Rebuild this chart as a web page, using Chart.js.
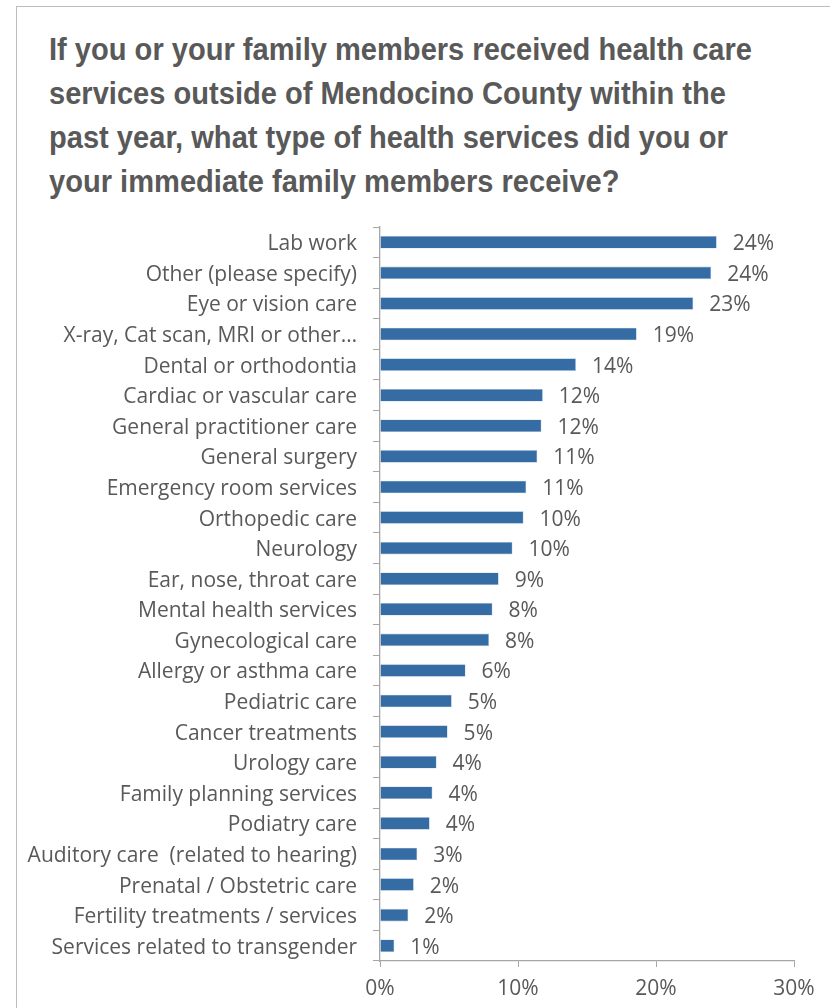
<!DOCTYPE html>
<html>
<head>
<meta charset="utf-8">
<script src="https://cdn.jsdelivr.net/npm/chart.js@4/dist/chart.umd.min.js"></script>
<style>
  html, body { margin: 0; padding: 0; background: #ffffff; width: 830px; height: 1008px; overflow: hidden; }
  #frame { position: absolute; left: 16px; top: 6px; width: 900px; height: 1100px; border-left: 1px solid #bcbcbc; border-top: 1px solid #bcbcbc; }
  #title { position: absolute; left: 49px; top: 27px; margin: 0; font-family: 'Liberation Sans', Arial, sans-serif; font-weight: bold; font-size: 32px; line-height: 44px; color: #595959; white-space: nowrap; transform-origin: 0 0; }
  #wrap { position: absolute; left: 0; top: 0; width: 830px; height: 1008px; }
</style>
</head>
<body>
<div id="frame"></div>
<div id="title"></div>
<div id="wrap"><canvas id="c" width="830" height="1008"></canvas></div>
<script>
const titleLines = [
  "If you or your family members received health care",
  "services outside of Mendocino County within the",
  "past year, what type of health services did you or",
  "your immediate family members receive?"
];
const categories = [
  "Lab work",
  "Other (please specify)",
  "Eye or vision care",
  "X-ray, Cat scan, MRI or other…",
  "Dental or orthodontia",
  "Cardiac or vascular care",
  "General practitioner care",
  "General surgery",
  "Emergency room services",
  "Orthopedic care",
  "Neurology",
  "Ear, nose, throat care",
  "Mental health services",
  "Gynecological care",
  "Allergy or asthma care",
  "Pediatric care",
  "Cancer treatments",
  "Urology care",
  "Family planning services",
  "Podiatry care",
  "Auditory care  (related to hearing)",
  "Prenatal / Obstetric care",
  "Fertility treatments / services",
  "Services related to transgender"
];
const percentValues = [24.4, 24.0, 22.7, 18.6, 14.2, 11.8, 11.7, 11.4, 10.6, 10.4, 9.6, 8.6, 8.15, 7.9, 6.2, 5.2, 4.9, 4.1, 3.8, 3.6, 2.7, 2.45, 2.05, 1.04];
const xTickValues = [0, 10, 20, 30];

// Title: condensed look by horizontal scaling of a bold sans
const titleEl = document.getElementById('title');
titleEl.innerHTML = titleLines.map(t => t.replace(/&/g, '&amp;')).join('<br>');
(function () {
  const m = document.createElement('canvas').getContext('2d');
  m.font = "bold 32px 'Liberation Sans', Arial, sans-serif";
  const w = m.measureText(titleLines[0]).width;
  titleEl.style.transform = 'scaleX(' + (703 / w) + ')';
})();

const textColor = '#595959';
const axisColor = '#a6a6a6';
const labelFont = { family: "'Open Sans', sans-serif", size: 21 };

const valueLabels = {
  id: 'valueLabels',
  afterDatasetsDraw(chart) {
    const ctx = chart.ctx;
    const meta = chart.getDatasetMeta(0);
    ctx.save();
    ctx.font = "21px 'Open Sans', sans-serif";
    ctx.fillStyle = textColor;
    ctx.textAlign = 'left';
    ctx.textBaseline = 'middle';
    meta.data.forEach((bar, i) => {
      ctx.fillText(Math.round(percentValues[i]) + '%', bar.x + 16, bar.y + 2);
    });
    ctx.restore();
  }
};

new Chart(document.getElementById('c'), {
  type: 'bar',
  data: {
    labels: categories,
    datasets: [{
      data: percentValues,
      backgroundColor: '#356ca4',
      borderColor: '#a8c1de',
      borderWidth: 0.6,
      barPercentage: 0.41,
      categoryPercentage: 1.0
    }]
  },
  options: {
    indexAxis: 'y',
    responsive: false,
    animation: false,
    devicePixelRatio: 1,
    layout: { padding: { top: 227, right: 36, bottom: 0, left: 0 } },
    plugins: { legend: { display: false }, tooltip: { enabled: false }, title: { display: false } },
    scales: {
      y: {
        afterFit(scale) { scale.width = 380; },
        grid: { display: true, drawOnChartArea: false, drawTicks: true, tickLength: 7, color: axisColor, lineWidth: 1 },
        border: { display: true, color: axisColor, width: 1.3 },
        ticks: { color: textColor, font: labelFont, padding: 16, autoSkip: false, labelOffset: 2 }
      },
      x: {
        min: 0, max: 30,
        afterFit(scale) { scale.height = 47; },
        afterBuildTicks(scale) { scale.ticks = xTickValues.map(v => ({ value: v })); },
        grid: { display: true, drawOnChartArea: false, drawTicks: true, tickLength: 6, color: axisColor, lineWidth: 1 },
        border: { display: true, color: axisColor, width: 1.3 },
        ticks: { color: textColor, font: labelFont, padding: 9, callback: v => v + '%' }
      }
    }
  },
  plugins: [valueLabels]
});
</script>
</body>
</html>
